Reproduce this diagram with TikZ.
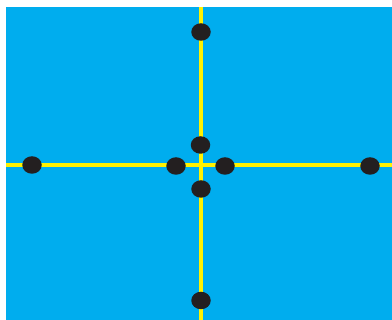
\documentclass[tikz,border=0pt]{standalone}
\definecolor{bg}{HTML}{00ADEE}
\definecolor{ln}{HTML}{FFF200}
\definecolor{dt}{HTML}{231F20}
\tikzset{dot/.style={ellipse,fill=dt,minimum width=19.5pt,minimum height=17.5pt,inner sep=0pt},
 rail/.style={draw=ln,line width=4pt}}
\usetikzlibrary{shapes.geometric}
\begin{document}
\begin{tikzpicture}[x=1pt,y=-1pt]
\useasboundingbox (0,0) rectangle (392,320);
\fill[bg] (6,7) rectangle (392,320);
\coordinate (vt) at (200.7,7);
\coordinate (vb) at (200.7,320);
\coordinate (hl) at (6,165);
\coordinate (hr) at (392,165);
\draw[rail] (vt) -- (vb);
\draw[rail] (hl) -- (hr);
\node[dot] (d1) at (201,32) {};
\node[dot] (d2) at (32,165) {};
\node[dot] (d3) at (176,166) {};
\node[dot] (d4) at (200.5,145) {};
\node[dot] (d5) at (225,166) {};
\node[dot] (d6) at (201,189) {};
\node[dot] (d7) at (370,166) {};
\node[dot] (d8) at (201,300.5) {};
\end{tikzpicture}
\end{document}
